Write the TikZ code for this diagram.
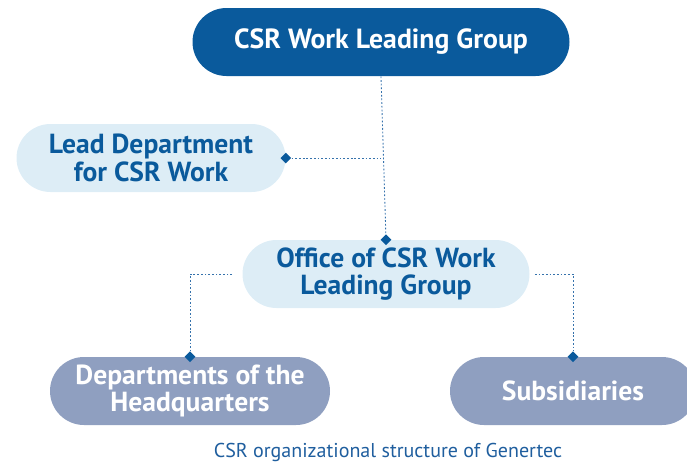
\documentclass[tikz,border=0pt]{standalone}
\usepackage{fontspec}
\setmainfont{PT Sans}
\usepackage{tikz}
\usetikzlibrary{shapes.geometric}
\definecolor{darkblue}{HTML}{0A5A9C}
\definecolor{paleblue}{HTML}{DDEDF6}
\definecolor{greyblue}{HTML}{8F9FC0}
\definecolor{wireblue}{HTML}{3572AC}
\definecolor{captionblue}{HTML}{1F5E9E}
\tikzset{
  pill/.style={rectangle, rounded corners=0.68cm, minimum height=1.36cm, align=center, font=\fontsize{15.7}{15.5}\selectfont\bfseries, inner sep=0pt},
  topbox/.style={pill, fill=darkblue, text=white, font=\fontsize{15.8}{17}\selectfont\bfseries},
  midbox/.style={pill, fill=paleblue, text=darkblue},
  lowbox/.style={pill, fill=greyblue, text=white},
  tip/.style={diamond, fill=darkblue, inner sep=0pt, minimum size=0.22cm},
  wire/.style={wireblue, line width=0.5pt, dash pattern=on 1pt off 1.1pt}
}
\begin{document}
\begin{tikzpicture}
    		\useasboundingbox (0, 0) rectangle (13.74, -9.32);
    		% Boxes:
    		\node[topbox, minimum width=7.54cm](lg) at (7.62, -0.84){CSR Work Leading Group};
    		\node[midbox, minimum width=5.38cm](ld) at (3.02, -3.16){Lead Department\\for CSR Work};
    		\node[midbox, minimum width=5.74cm](of) at (7.72, -5.48){Office of CSR Work\\Leading Group};
    		\node[lowbox, minimum width=5.6cm](hq) at (3.8, -7.82){Departments of the\\Headquarters};
    		\node[lowbox, minimum width=4.92cm](sb) at (11.46, -7.82){Subsidiaries};
    		% Diamonds:
    		\node[tip](t1) at (ld.east){};
    		\node[tip](t2) at (of.north){};
    		\node[tip](t3) at (hq.north){};
    		\node[tip](t4) at (sb.north){};
    		% Wires:
    		\draw[wire] (lg.south) -- (t2);
    		\draw[wire] (t1) -- (t1 -| lg.south);
    		\draw[wire, shorten <=0.2cm] (of.west) -| (t3);
    		\draw[wire, shorten <=0.1cm] (of.east) -| (t4);
    		% Caption:
    		\node[text=captionblue, font=\fontsize{11.4}{12}\selectfont](cap) at (7.76, -9.04){CSR organizational structure of Genertec};
    	\end{tikzpicture}
\end{document}
